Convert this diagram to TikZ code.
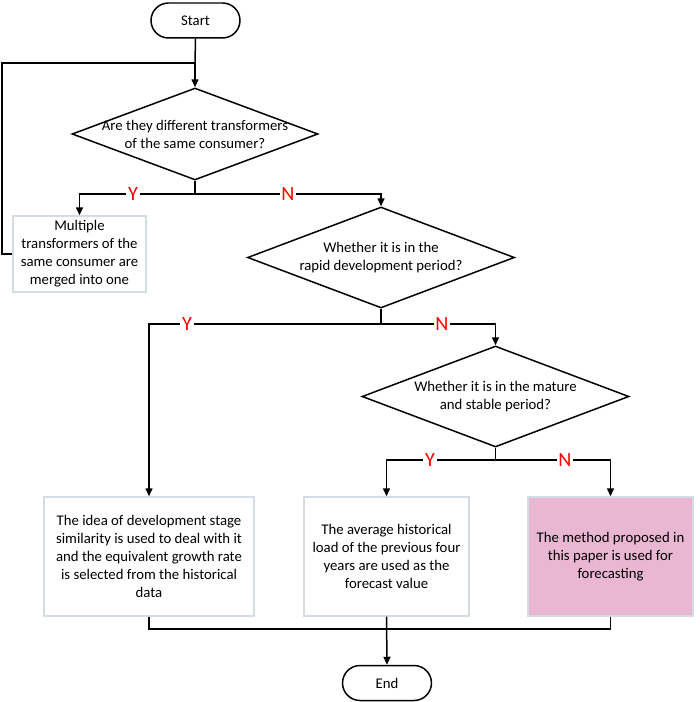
\documentclass[tikz,border=0pt]{standalone}
\usepackage{fontspec}
\setmainfont{Carlito}
\usetikzlibrary{shapes.geometric,arrows.meta,shadows}
\definecolor{boxline}{RGB}{212,220,230}
\definecolor{pinkfill}{RGB}{234,183,210}
\tikzset{
  term/.style={draw, rounded corners=0.35cm, minimum width=1.78cm, minimum height=0.7cm, inner sep=0pt},
  dia/.style={draw, diamond, inner sep=0pt},
  qtext/.style={align=center},
  box/.style={draw=boxline, fill=white, align=center, inner sep=0pt,
    drop shadow={shadow xshift=0.3pt, shadow yshift=-0.8pt, fill=blue!25, opacity=0.35}},
  yn/.style={text=red, fill=white, inner sep=1pt, font=\fontsize{11.5}{13}\selectfont}
}
\begin{document}
\begin{tikzpicture}[x=0.02cm, y=-0.02cm, >={Triangle[length=1.6mm,width=1.4mm]}, line width=0.85pt, font=\fontsize{8.4}{10.24}\selectfont]
\useasboundingbox (0,0) rectangle (699,702);

\node(Start)[term] at (195.5,20.5){Start};
\node(Q1)[dia, minimum width=4.92cm, minimum height=1.84cm, label={[qtext]center:Are they different transformers\\of the same consumer?}] at (195,134){};
\node(Merge)[box, minimum width=2.66cm, minimum height=1.52cm] at (79.5,254){Multiple\\transformers of the\\same consumer are\\merged into one};
\node(Q2)[dia, minimum width=5.34cm, minimum height=2.02cm, label={[qtext]center:Whether it is in the\\rapid development period?}] at (381,257.5){};
\node(Q3)[dia, minimum width=5.34cm, minimum height=2.02cm, label={[qtext]center:Whether it is in the mature\\and stable period?}] at (495.5,396.5){};
\node(Simil)[box, minimum width=4.2cm, minimum height=2.38cm] at (149,556.5){The idea of development stage\\similarity is used to deal with it\\and the equivalent growth rate\\is selected from the historical\\data};
\node(Avg)[box, minimum width=3.3cm, minimum height=2.38cm] at (386.5,556.5){The average historical\\load of the previous four\\years are used as the\\forecast value};
\node(Prop)[box, fill=pinkfill, minimum width=3.3cm, minimum height=2.38cm] at (610.5,556.5){The method proposed in\\this paper is used for\\forecasting};
\node(End)[term] at (387,683){End};

% start and loop back
\coordinate(J0) at (195,63);
\coordinate(L0) at (2,63);
\draw (Start.south) -- (J0);
\draw[->] (J0) -- (Q1.north);
\draw (Merge.west) -| (L0) -- (J0);

% first question
\coordinate(J1) at (195,194);
\draw (Q1.south) -- (J1);
\draw[->] (J1) -| (Merge.north);
\draw[->] (J1) -| (Q2.north);
\node(Y1)[yn] at (133,194){Y};
\node(N1)[yn] at (288,194){N};

% second question
\coordinate(J2) at (381,324);
\draw (Q2.south) -- (J2);
\draw[->] (J2) -| (Simil.north);
\draw[->] (J2) -| (Q3.north);
\node(Y2)[yn] at (187,324){Y};
\node(N2)[yn] at (442,324){N};

% third question
\coordinate(J3) at (495.5,460);
\draw (Q3.south) -- (J3);
\draw[->] (J3) -| (Avg.north);
\draw[->] (J3) -| (Prop.north);
\node(Y3)[yn] at (430,460){Y};
\node(N3)[yn] at (565,460){N};

% end
\coordinate(J4) at (386.5,629);
\draw (Simil.south) |- (J4);
\draw (Prop.south) |- (J4);
\draw[->] (Avg.south) -- (End.north);
\end{tikzpicture}
\end{document}
